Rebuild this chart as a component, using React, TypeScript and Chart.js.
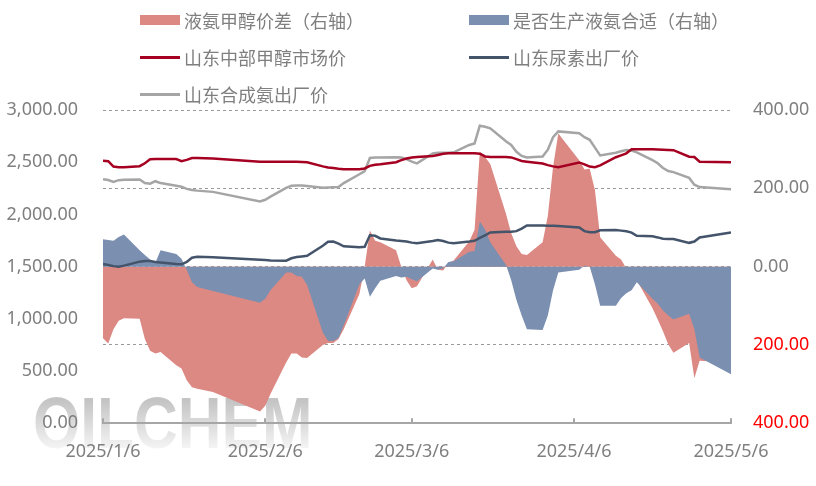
import React, { useEffect, useRef } from "react";
import { Chart, registerables } from "chart.js";

Chart.register(...registerables);

const dates = [
  "2025/1/6", "2025/1/7", "2025/1/8", "2025/1/9", "2025/1/10", "2025/1/13", "2025/1/14", "2025/1/15",
  "2025/1/16", "2025/1/17", "2025/1/20", "2025/1/21", "2025/1/22", "2025/1/23", "2025/1/24", "2025/1/27",
  "2025/2/5", "2025/2/6", "2025/2/7", "2025/2/10", "2025/2/11", "2025/2/12", "2025/2/13", "2025/2/14",
  "2025/2/17", "2025/2/18", "2025/2/19", "2025/2/20", "2025/2/21", "2025/2/24", "2025/2/25", "2025/2/26",
  "2025/2/27", "2025/2/28",
  "2025/3/3", "2025/3/4", "2025/3/5", "2025/3/6", "2025/3/7", "2025/3/10", "2025/3/11", "2025/3/12",
  "2025/3/13", "2025/3/14", "2025/3/17", "2025/3/18", "2025/3/19", "2025/3/20", "2025/3/21", "2025/3/24",
  "2025/3/25", "2025/3/26", "2025/3/27", "2025/3/28", "2025/3/31",
  "2025/4/1", "2025/4/2", "2025/4/3", "2025/4/7", "2025/4/8", "2025/4/9", "2025/4/10", "2025/4/11",
  "2025/4/14", "2025/4/15", "2025/4/16", "2025/4/17", "2025/4/18", "2025/4/21", "2025/4/22", "2025/4/23",
  "2025/4/24", "2025/4/25", "2025/4/28", "2025/4/29", "2025/4/30",
  "2025/5/6",
];

// 山东中部甲醇市场价 (left axis)
const methanolPrice = [
  2515, 2510, 2458, 2452, 2452, 2462, 2490, 2528, 2530, 2530, 2530, 2510, 2522, 2540, 2540, 2535,
  2505, 2505, 2505, 2505, 2505, 2504, 2503, 2500, 2460, 2450, 2445, 2437, 2433, 2432, 2440, 2465, 2475, 2480,
  2500, 2520, 2535, 2545, 2550, 2560, 2570, 2580, 2585, 2585, 2585, 2585, 2582, 2555, 2550, 2550, 2546, 2530, 2512, 2505, 2487,
  2472, 2460, 2452, 2498, 2480, 2458, 2452, 2470, 2548, 2566, 2585, 2625, 2625, 2625, 2622, 2620, 2618, 2615, 2553, 2550, 2505,
  2500,
];

// 山东尿素出厂价 (left axis)
const ureaPrice = [
  1525, 1515, 1505, 1500, 1510, 1548, 1555, 1554, 1545, 1540, 1525, 1522, 1545, 1585, 1595, 1590,
  1565, 1563, 1560, 1557, 1580, 1592, 1598, 1605, 1700, 1738, 1740, 1720, 1695, 1685, 1690, 1800, 1795, 1770,
  1750, 1746, 1740, 1730, 1725, 1745, 1755, 1745, 1730, 1723, 1740, 1748, 1775, 1800, 1828, 1833, 1835, 1840, 1865, 1895, 1893,
  1892, 1892, 1890, 1875, 1840, 1830, 1830, 1848, 1850, 1845, 1838, 1826, 1795, 1790, 1780, 1768, 1765, 1765, 1728, 1740, 1780,
  1828,
];

// 山东合成氨出厂价 (left axis)
const ammoniaPrice = [
  2336, 2330, 2312, 2328, 2332, 2334, 2300, 2294, 2318, 2300, 2275, 2266, 2245, 2234, 2228, 2216,
  2125, 2140, 2170, 2255, 2275, 2278, 2276, 2272, 2255, 2258, 2260, 2262, 2300, 2385, 2415, 2540, 2545, 2545,
  2547, 2545, 2530, 2505, 2489, 2585, 2590, 2590, 2590, 2595, 2665, 2680, 2850, 2840, 2825, 2700, 2665, 2600, 2560, 2545, 2555,
  2620, 2740, 2795, 2778, 2740, 2715, 2640, 2565, 2590, 2605, 2617, 2612, 2595, 2520, 2490, 2445, 2415, 2405, 2350, 2285, 2262,
  2240,
];

// 液氨甲醇价差 (right axis)
const spreadValues = [
  -183, -196, -160, -138, -132, -133, -185, -215, -222, -218, -252, -260, -290, -308, -312, -320,
  -370, -355, -325, -245, -222, -222, -232, -233, -200, -195, -195, -185, -160, -70, 0, 92, 66, 62,
  42, 0, -35, -55, -50, 18, -8, -10, 10, 16, 65, 94, 294, 280, 262, 135, 85, 52, 32, 30, 62,
  130, 255, 340, 272, 248, 250, 196, 75, 28, 18, -5, -20, -35, -106, -135, -165, -198, -220, -195, -285, -240,
  -245,
];

// 是否生产液氨合适 (right axis)
const suitabilityValues = [
  70, 68, 66, 76, 82, 42, 30, 18, 10, 42, 32, 20, -8, -40, -52, -62,
  -92, -82, -60, -15, -15, -24, -26, -47, -168, -190, -190, -182, -150, -45, -30, -77, -55, -36,
  -24, -28, -26, -32, -37, -5, -8, -4, 12, 14, 38, 40, 115, 95, 62, 5, -35, -85, -125, -160, -162,
  -125, -60, -15, -8, 2, 0, -45, -100, -100, -80, -68, -60, -40, -82, -95, -112, -125, -135, -120, -160, -232,
  -275,
];

const xTickLabels = ["2025/1/6", "2025/2/6", "2025/3/6", "2025/4/6", "2025/5/6"];

const legendItems = [
  { label: "液氨甲醇价差（右轴）", color: "#DC8984", kind: "box" },
  { label: "是否生产液氨合适（右轴）", color: "#7B8FB0", kind: "box" },
  { label: "山东中部甲醇市场价", color: "#A50021", kind: "line" },
  { label: "山东尿素出厂价", color: "#44546A", kind: "line" },
  { label: "山东合成氨出厂价", color: "#A5A5A5", kind: "line" },
];

function dayIndex(s: string): number {
  const [y, m, d] = s.split("/").map(Number);
  return (Date.UTC(y, m - 1, d) - Date.UTC(2025, 0, 6)) / 86400000;
}

const TICK_FONT = { family: "'Noto Sans', 'DejaVu Sans', sans-serif", size: 18 };
const TEXT_GRAY = "#7F7F7F";

export default function App() {
  const canvasRef = useRef<HTMLCanvasElement | null>(null);

  useEffect(() => {
    const days = dates.map(dayIndex);
    const pts = (arr: number[]) => arr.map((v, i) => ({ x: days[i], y: v }));
    const tickDays = xTickLabels.map(dayIndex);

    const innerTicks = {
      id: "innerTicks",
      afterDraw(chart: any) {
        const s = chart.scales.x;
        const c = chart.ctx;
        c.save();
        c.strokeStyle = "#A6A6A6";
        c.lineWidth = 2;
        s.ticks.forEach((t: any) => {
          const px = Math.round(s.getPixelForValue(t.value));
          c.beginPath();
          c.moveTo(px, s.top);
          c.lineTo(px, s.top - 5);
          c.stroke();
        });
        c.restore();
      },
    };

    const chart = new Chart(canvasRef.current as HTMLCanvasElement, {
      type: "line",
      data: {
        datasets: [
          {
            label: "山东中部甲醇市场价",
            data: pts(methanolPrice),
            borderColor: "#A50021",
            borderWidth: 2.5,
            pointRadius: 0,
            fill: false,
            yAxisID: "y",
            order: 0,
          },
          {
            label: "山东尿素出厂价",
            data: pts(ureaPrice),
            borderColor: "#44546A",
            borderWidth: 2.5,
            pointRadius: 0,
            fill: false,
            yAxisID: "y",
            order: 0,
          },
          {
            label: "山东合成氨出厂价",
            data: pts(ammoniaPrice),
            borderColor: "#A5A5A5",
            borderWidth: 2.5,
            pointRadius: 0,
            fill: false,
            yAxisID: "y",
            order: 0,
          },
          {
            label: "是否生产液氨合适（右轴）",
            data: pts(suitabilityValues),
            borderColor: "#7B8FB0",
            backgroundColor: "#7B8FB0",
            borderWidth: 0,
            pointRadius: 0,
            fill: "origin",
            yAxisID: "y1",
            order: 1,
          },
          {
            label: "液氨甲醇价差（右轴）",
            data: pts(spreadValues),
            borderColor: "#DC8984",
            backgroundColor: "#DC8984",
            borderWidth: 0,
            pointRadius: 0,
            fill: "origin",
            yAxisID: "y1",
            order: 2,
          },
        ],
      },
      options: {
        animation: false,
        responsive: false,
        devicePixelRatio: 1,
        layout: { padding: { top: 110, left: 0, right: 0, bottom: 0 } },
        plugins: {
          legend: { display: false },
          tooltip: { enabled: false },
        },
        elements: { line: { tension: 0 } },
        scales: {
          x: {
            type: "linear",
            min: 0,
            max: 120,
            afterBuildTicks: (s: any) => {
              s.ticks = tickDays.map((v) => ({ value: v }));
            },
            afterFit: (s: any) => {
              s.height = 486 - 423.3;
            },
            ticks: {
              autoSkip: false,
              maxRotation: 0,
              padding: 18,
              font: TICK_FONT,
              color: TEXT_GRAY,
              callback: (_v: any, i: number) => xTickLabels[i],
            },
            grid: { display: false, drawTicks: false },
            border: { display: true, color: "#A6A6A6", width: 2 },
          },
          y: {
            position: "left",
            min: 0,
            max: 3000,
            afterFit: (s: any) => {
              s.width = 103;
            },
            ticks: {
              stepSize: 500,
              padding: 25,
              font: TICK_FONT,
              color: TEXT_GRAY,
              callback: (v: any) =>
                Number(v).toLocaleString("en-US", { minimumFractionDigits: 2, maximumFractionDigits: 2 }),
            },
            grid: { display: false, drawTicks: false },
            border: { display: false },
          },
          y1: {
            position: "right",
            min: -400,
            max: 400,
            afterFit: (s: any) => {
              s.width = 816 - 731;
            },
            ticks: {
              stepSize: 200,
              padding: 22,
              font: TICK_FONT,
              color: (ctx: any) => (ctx.tick && ctx.tick.value < 0 ? "#FF0000" : TEXT_GRAY),
              callback: (v: any) => Math.abs(Number(v)).toFixed(2),
            },
            grid: {
              display: true,
              drawTicks: false,
              drawOnChartArea: true,
              lineWidth: 1,
              color: (ctx: any) => (ctx.tick && ctx.tick.value === -400 ? "rgba(0,0,0,0)" : "#9A9A9A"),
            },
            border: { display: false, dash: [3, 3] },
          },
        },
      },
      plugins: [innerTicks],
    } as any);

    return () => chart.destroy();
  }, []);

  return (
    <div
      style={{
        position: "absolute",
        left: 0,
        top: 0,
        width: 816,
        height: 486,
        background: "#FFFFFF",
        overflow: "hidden",
      }}
    >
      <div
        style={{
          position: "absolute",
          left: 33,
          top: 386,
          fontFamily: "'Liberation Sans', Arial, sans-serif",
          fontWeight: 700,
          fontSize: 73,
          lineHeight: "73px",
          whiteSpace: "nowrap",
          transform: "scaleX(0.83)",
          transformOrigin: "left top",
          background: "linear-gradient(to bottom, #C4C4C4 20%, #F4F4F4 85%)",
          WebkitBackgroundClip: "text",
          backgroundClip: "text",
          color: "transparent",
        }}
      >
        OILCHEM
      </div>
      <canvas
        ref={canvasRef}
        width={816}
        height={486}
        style={{ position: "absolute", left: 0, top: 0, width: 816, height: 486 }}
      />
      {legendItems.map((it, i) => {
        const col = i % 2;
        const row = Math.floor(i / 2);
        const left = col === 0 ? 140 : 469;
        const cy = [20, 57, 94][row];
        return (
          <div
            key={it.label}
            style={{
              position: "absolute",
              left,
              top: cy - 12,
              height: 24,
              display: "flex",
              alignItems: "center",
              whiteSpace: "nowrap",
            }}
          >
            <div
              style={{
                width: 40,
                height: it.kind === "box" ? 10 : 3,
                background: it.color,
                marginRight: 4,
              }}
            />
            <span
              style={{
                fontFamily: "'Noto Sans CJK SC', sans-serif",
                fontSize: 18,
                color: TEXT_GRAY,
                lineHeight: "24px",
              }}
            >
              {it.label}
            </span>
          </div>
        );
      })}
    </div>
  );
}
